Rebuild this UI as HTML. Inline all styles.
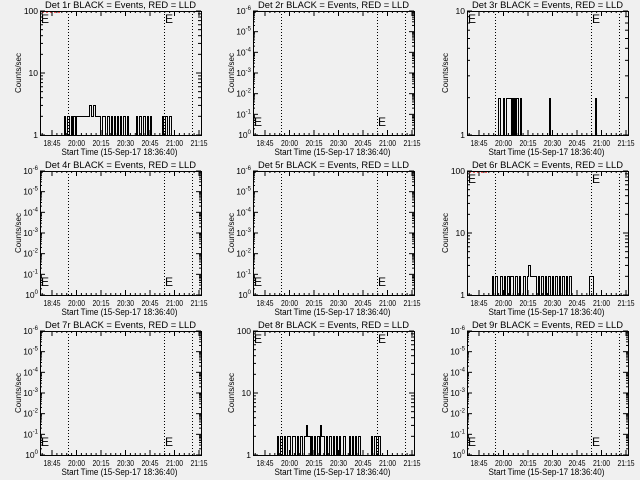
<!DOCTYPE html>
<html><head><meta charset="utf-8"><style>
html,body{margin:0;padding:0;background:#f0f0f0}
svg{display:block;font-family:"Liberation Sans",sans-serif}
</style></head><body>
<svg id="c" width="640" height="480" viewBox="0 0 640 480"></svg>
<script>
// ---- data ----
const xTickLabels = ["18:45","20:00","20:15","20:30","20:45","21:00","21:15"];
const xTickMinutes = [0,15,30,45,60,75,90];
const dottedMinutes = [9.8,68.6,85.7];
const detNames = ["1r","2r","3r","4r","5r","6r","7r","8r","9r"];
const yMaxExp = [2,-6,1,-6,-6,2,-6,2,-6];
const det1Counts = "111111111111111111111111"+"211221121221"+"222222222222"+"23322332"+"222"+"2112221122"+"11211211"+"2112112211211"+"111111"+"211221122112112"+"11111111111"+"211221122"+"111111111111111111111111111111";
const det3Counts = "1111111111111111111111111111111"+"221112112222212121221121111111"+"111111111111111111111"+"2"+"111111111111111111111111111111111111111111111"+"2"+"11111111111111111111111111111111";
const det6Counts = "1111111111111111111111111"+"211221112211211221222112211211122112"+"332"+"22222112112211211221121122112112211211221"+"11111111111111111"+"2222"+"111111111111111111111111111111111111";
const det8Counts = "111111111111111111111111"+"211221121122"+"2112221121122112232221"+"211211221"+"3222112112211211"+"2112111221"+"111"+"21121121122"+"11111111111"+"211221122"+"111111111111111111111111111111";
const panelCounts = [det1Counts,null,det3Counts,null,null,det6Counts,null,det8Counts,null];
const llpRed = [true,false,false,false,false,true,false,false,false];

const NS="http://www.w3.org/2000/svg";
const svg=document.getElementById('c');
function mk(tag,attrs,parent,text){const e=document.createElementNS(NS,tag);for(const k in attrs)e.setAttribute(k,attrs[k]);if(text!==undefined)e.textContent=text;(parent||svg).appendChild(e);return e;}

const colX=[40,253,467], rowY=[11,171,331], W=161, H=124;
for(let p=0;p<9;p++){
  const x0=colX[p%3], y0=rowY[Math.floor(p/3)];
  const g=mk('g',{});
  
  
  const xs=m=>x0+12+m*24.5/15;
  const top=yMaxExp[p];
  let ys;
  if(top===-6){ ys=e=>y0+H-(-e)*H/6; }
  else { ys=v=>y0+H-Math.log10(v)/top*H; }
  const t=mk('text',{x:x0+W/2,y:y0-3,'text-anchor':'middle','font-size':9.5,textLength:151,lengthAdjust:'spacingAndGlyphs'},g,'Det '+detNames[p]+' BLACK = Events, RED = LLD');
  
  
  dottedMinutes.forEach(m=>{const X=Math.round(xs(m))+0.5;const l=mk('line',{x1:X,x2:X,y1:y0,y2:y0+H,stroke:'#000','stroke-width':1,'stroke-dasharray':'1,2'},g);
    
    });
  const cs=panelCounts[p];
  if(cs){
    let d='';
    for(let i=0;i<W;i++){
      const v=+(cs[i]||'1');
      const xa=x0+i+0.5, xb=x0+i+1.5, y=Math.round(ys(v))+0.5;
      d+=(i===0?'M':'L')+xa+','+y+'L'+xb+','+y;
    }
    const path=mk('path',{d:d,fill:'none',stroke:'#000','stroke-width':1,'shape-rendering':'crispEdges'},g);
    
    
  }
  if(llpRed[p]){
    const r=mk('line',{x1:x0+2,x2:x0+20,y1:y0+1,y2:y0+1,stroke:'#e00','stroke-width':1.2,'stroke-dasharray':'2,2'},g);
    
    
  }
  const ey= top===-6? y0+H-9 : y0+12;
  [x0+1,x0+125].forEach(ex=>{const e=mk('text',{x:ex,y:ey,'font-size':12},g,'E');
    
    });
  const f=mk('rect',{x:x0+0.5,y:y0+0.5,width:W,height:H,fill:'none',stroke:'#000','stroke-width':1},g);
  
  
  xTickMinutes.forEach((m,i)=>{const X=xs(m);
    mk('line',{x1:X,x2:X,y1:y0+H,y2:y0+H-5,stroke:'#000'},g);
    mk('line',{x1:X,x2:X,y1:y0,y2:y0+5,stroke:'#000'},g);
    for(let k=1;k<5&&i<6;k++){const Xm=xs(m+3*k);mk('line',{x1:Xm,x2:Xm,y1:y0+H,y2:y0+H-2,stroke:'#000'},g);mk('line',{x1:Xm,x2:Xm,y1:y0,y2:y0+2,stroke:'#000'},g);}
    const tl=mk('text',{x:X,y:y0+H+11,'text-anchor':'middle','font-size':8.5,textLength:17,lengthAdjust:'spacingAndGlyphs'},g,xTickLabels[i]);
    
    
  });
  {const X=xs(-6);mk('line',{x1:X,x2:X,y1:y0+H,y2:y0+H-2,stroke:'#000'},g);mk('line',{x1:X,x2:X,y1:y0,y2:y0+2,stroke:'#000'},g);}
  const xt=mk('text',{x:x0+W/2-1,y:y0+H+20,'text-anchor':'middle','font-size':9,textLength:116,lengthAdjust:'spacingAndGlyphs'},g,'Start Time (15-Sep-17 18:36:40)');
  
  
  const yt=mk('text',{x:0,y:0,'text-anchor':'middle','font-size':8,transform:`translate(${x0-19},${y0+H/2}) rotate(-90)`},g,'Counts/sec');
  
  
  if(top===-6){
    for(let e=0;e>=-6;e--){const Y=ys(e);
      mk('line',{x1:x0,x2:x0+5,y1:Y,y2:Y,stroke:'#000'},g);mk('line',{x1:x0+W,x2:x0+W-5,y1:Y,y2:Y,stroke:'#000'},g);
      if(e>-6)for(let k=2;k<10;k++){const Ym=Y-Math.log10(k)*H/6;mk('line',{x1:x0,x2:x0+2,y1:Ym,y2:Ym,stroke:'#000'},g);mk('line',{x1:x0+W,x2:x0+W-2,y1:Ym,y2:Ym,stroke:'#000'},g);}
      const lab=mk('text',{x:x0-2,y:Y+3,'text-anchor':'end','font-size':8.5},g);
      
      
      mk('tspan',{},lab,'10');mk('tspan',{dy:-4,'font-size':6},lab,String(e===0?0:e));
    }
  } else {
    for(let e=0;e<=top;e++){const v=Math.pow(10,e),Y=ys(v);
      mk('line',{x1:x0,x2:x0+5,y1:Y,y2:Y,stroke:'#000'},g);mk('line',{x1:x0+W,x2:x0+W-5,y1:Y,y2:Y,stroke:'#000'},g);
      if(e<top)for(let k=2;k<10;k++){const Ym=ys(v*k);mk('line',{x1:x0,x2:x0+3,y1:Ym,y2:Ym,stroke:'#000'},g);mk('line',{x1:x0+W,x2:x0+W-3,y1:Ym,y2:Ym,stroke:'#000'},g);}
      const lab=mk('text',{x:x0-2,y:Y+3,'text-anchor':'end','font-size':8.5},g,String(v));
      
      
    }
  }
}
</script>
</body></html>
